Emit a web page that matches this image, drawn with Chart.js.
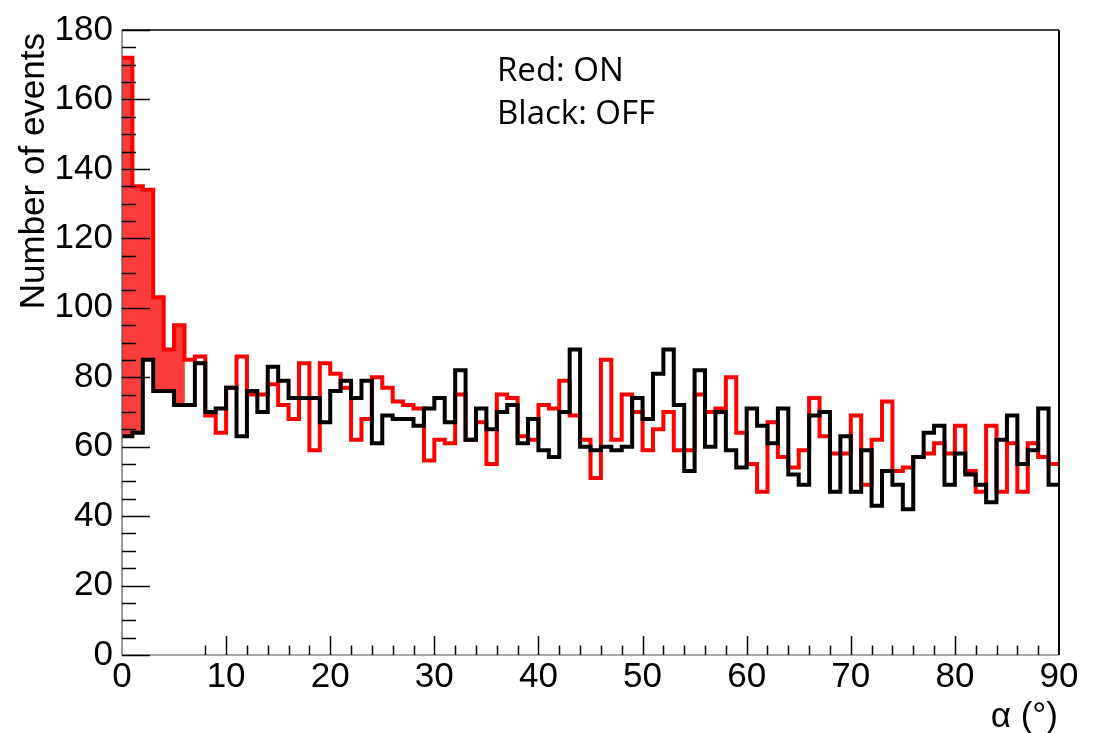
<!DOCTYPE html>
<html>
<head>
<meta charset="utf-8">
<script src="https://cdn.jsdelivr.net/npm/chart.js@4.4.0/dist/chart.umd.min.js"></script>
<style>
html,body{margin:0;padding:0;background:#fff;}
#wrap{width:1093px;height:733px;position:relative;}
</style>
</head>
<body>
<div id="wrap"><canvas id="c" width="1093" height="733"></canvas></div>
<script>
// ---- data ----
const binEdges = [0,1,2,3,4,5,6,7,8,9,10,11,12,13,14,15,16,17,18,19,20,21,22,23,24,25,26,27,28,29,30,
  31,32,33,34,35,36,37,38,39,40,41,42,43,44,45,46,47,48,49,50,51,52,53,54,55,56,57,58,59,60,
  61,62,63,64,65,66,67,68,69,70,71,72,73,74,75,76,77,78,79,80,81,82,83,84,85,86,87,88,89,90];

const onCounts = [172,135,134,103,88,95,85,86,69,64,
  77,86,75,75,78,72,68,84,59,84,
  81,77,62,68,80,77,73,72,71,56,
  62,61,75,62,67,55,75,74,63,62,
  72,71,79,69,62,51,85,62,75,70,
  59,65,70,59,59,75,70,71,80,64,
  55,47,67,57,54,59,74,63,58,58,
  69,49,62,73,53,54,57,58,61,58,
  66,53,47,66,47,61,47,61,57,55];

const offCounts = [63,64,85,76,76,72,72,84,70,71,
  77,63,76,70,83,79,74,74,74,67,
  76,79,74,79,61,69,68,68,66,71,
  74,67,82,62,71,65,70,72,61,68,
  59,57,70,88,60,59,60,59,60,74,
  68,81,88,72,53,82,60,70,59,54,
  71,66,61,71,52,49,69,70,47,63,
  47,59,43,53,49,42,57,64,66,49,
  58,52,49,44,62,69,55,59,71,49];

const xTickLabels = [0,10,20,30,40,50,60,70,80,90];
const yTickLabels = [0,20,40,60,80,100,120,140,160,180];
const signalBins = 6;   // excess region (ON above OFF) shaded
const seriesNames = ['Red: ON', 'Black: OFF'];
const xTitle = 'α (°)';
const yTitle = 'Number of events';

// ---- helpers ----
function histPoints(counts, nBins) {
  const pts = [];
  for (let i = 0; i < nBins; i++) {
    pts.push({x: binEdges[i], y: counts[i]});
    pts.push({x: binEdges[i + 1], y: counts[i]});
  }
  return pts;
}
function excessBars(nBins) {
  const bars = [];
  for (let i = 0; i < nBins; i++) {
    bars.push({x: (binEdges[i] + binEdges[i + 1]) / 2, y: [offCounts[i], onCounts[i]]});
  }
  return bars;
}

const canvas = document.getElementById('c');
const FONT = "'Liberation Sans', Arial, Helvetica, sans-serif";

const framePlugin = {
  id: 'rootFrame',
  afterDraw(chart) {
    const ctx = chart.ctx;
    const a = chart.chartArea;
    const xs = chart.scales.x, ys = chart.scales.y;
    ctx.save();
    ctx.lineCap = 'butt';
    ctx.strokeStyle = '#555';
    ctx.lineWidth = 1.2;
    ctx.beginPath();
    ctx.moveTo(a.left, a.top); ctx.lineTo(a.left, a.bottom);
    ctx.lineTo(a.right, a.bottom);
    ctx.stroke();
    ctx.strokeStyle = '#000';
    ctx.lineWidth = 1.5;
    ctx.beginPath();
    ctx.moveTo(a.left, a.top); ctx.lineTo(a.right, a.top);
    ctx.stroke();
    ctx.lineWidth = 2;
    ctx.beginPath();
    ctx.moveTo(a.right, a.top); ctx.lineTo(a.right, a.bottom);
    ctx.stroke();
    // y ticks (inward)
    ctx.lineWidth = 1.5;
    for (let v = 0; v <= 180; v += 5) {
      const y = Math.round(ys.getPixelForValue(v)) + 0.5;
      const len = (v % 20 === 0) ? 28 : 14;
      ctx.beginPath();
      ctx.moveTo(a.left, y); ctx.lineTo(a.left + len, y);
      ctx.stroke();
    }
    // x ticks (inward)
    for (let v = 0; v < 90; v += 2) {
      if (v <= signalBins) continue;
      const x = Math.round(xs.getPixelForValue(v)) + 0.5;
      const len = (v % 10 === 0) ? 19 : 9.5;
      ctx.beginPath();
      ctx.moveTo(x, a.bottom); ctx.lineTo(x, a.bottom - len);
      ctx.stroke();
    }
    // axis titles
    ctx.fillStyle = '#000';
    ctx.font = '35px ' + FONT;
    ctx.textAlign = 'right';
    ctx.textBaseline = 'alphabetic';
    ctx.fillText(xTitle, a.right - 1, 727);
    ctx.save();
    ctx.translate(44, a.top + 3);
    ctx.rotate(-Math.PI / 2);
    ctx.textAlign = 'right';
    ctx.fillText(yTitle, 0, 0);
    ctx.restore();
    // annotation
    ctx.font = "33px 'Open Sans', 'Noto Sans', sans-serif";
    ctx.textAlign = 'left';
    ctx.fillText(seriesNames[0], 497, 81);
    ctx.fillText(seriesNames[1], 497, 124);
    ctx.restore();
  }
};

new Chart(canvas, {
  type: 'line',
  data: {
    datasets: [
      {
        type: 'line',
        label: 'OFF',
        data: histPoints(offCounts, offCounts.length),
        borderColor: '#000000',
        borderWidth: 4,
        pointRadius: 0,
        fill: false,
        tension: 0,
        borderJoinStyle: 'miter',
        order: 0
      },
      {
        type: 'line',
        label: 'ON',
        data: histPoints(onCounts, onCounts.length),
        borderColor: '#ff0000',
        borderWidth: 4,
        pointRadius: 0,
        fill: false,
        tension: 0,
        borderJoinStyle: 'miter',
        order: 1
      },
      {
        type: 'bar',
        label: 'excess',
        data: excessBars(signalBins),
        backgroundColor: 'rgb(250,60,60)',
        borderWidth: 0,
        barPercentage: 1.0,
        categoryPercentage: 1.0,
        order: 2
      }
    ]
  },
  options: {
    responsive: false,
    animation: false,
    layout: {padding: {left: 0, right: 34, top: 17, bottom: 0}},
    plugins: {legend: {display: false}, tooltip: {enabled: false}},
    scales: {
      x: {
        type: 'linear',
        min: 0, max: 90,
        offset: false,
        afterBuildTicks: s => { s.ticks = xTickLabels.map(v => ({value: v})); },
        afterFit: s => { s.height = 78; },
        grid: {display: false, drawTicks: false, offset: false},
        border: {display: false},
        ticks: {
          color: '#000', padding: 1, maxRotation: 0, autoSkip: false,
          font: {family: FONT, size: 35}
        }
      },
      y: {
        type: 'linear',
        min: 0, max: 180,
        afterBuildTicks: s => { s.ticks = yTickLabels.map(v => ({value: v})); },
        afterFit: s => { s.width = 122; },
        grid: {display: false, drawTicks: false},
        border: {display: false},
        ticks: {
          color: '#000', padding: 9, autoSkip: false,
          font: {family: FONT, size: 35}
        }
      }
    }
  },
  plugins: [framePlugin]
});
</script>
</body>
</html>
